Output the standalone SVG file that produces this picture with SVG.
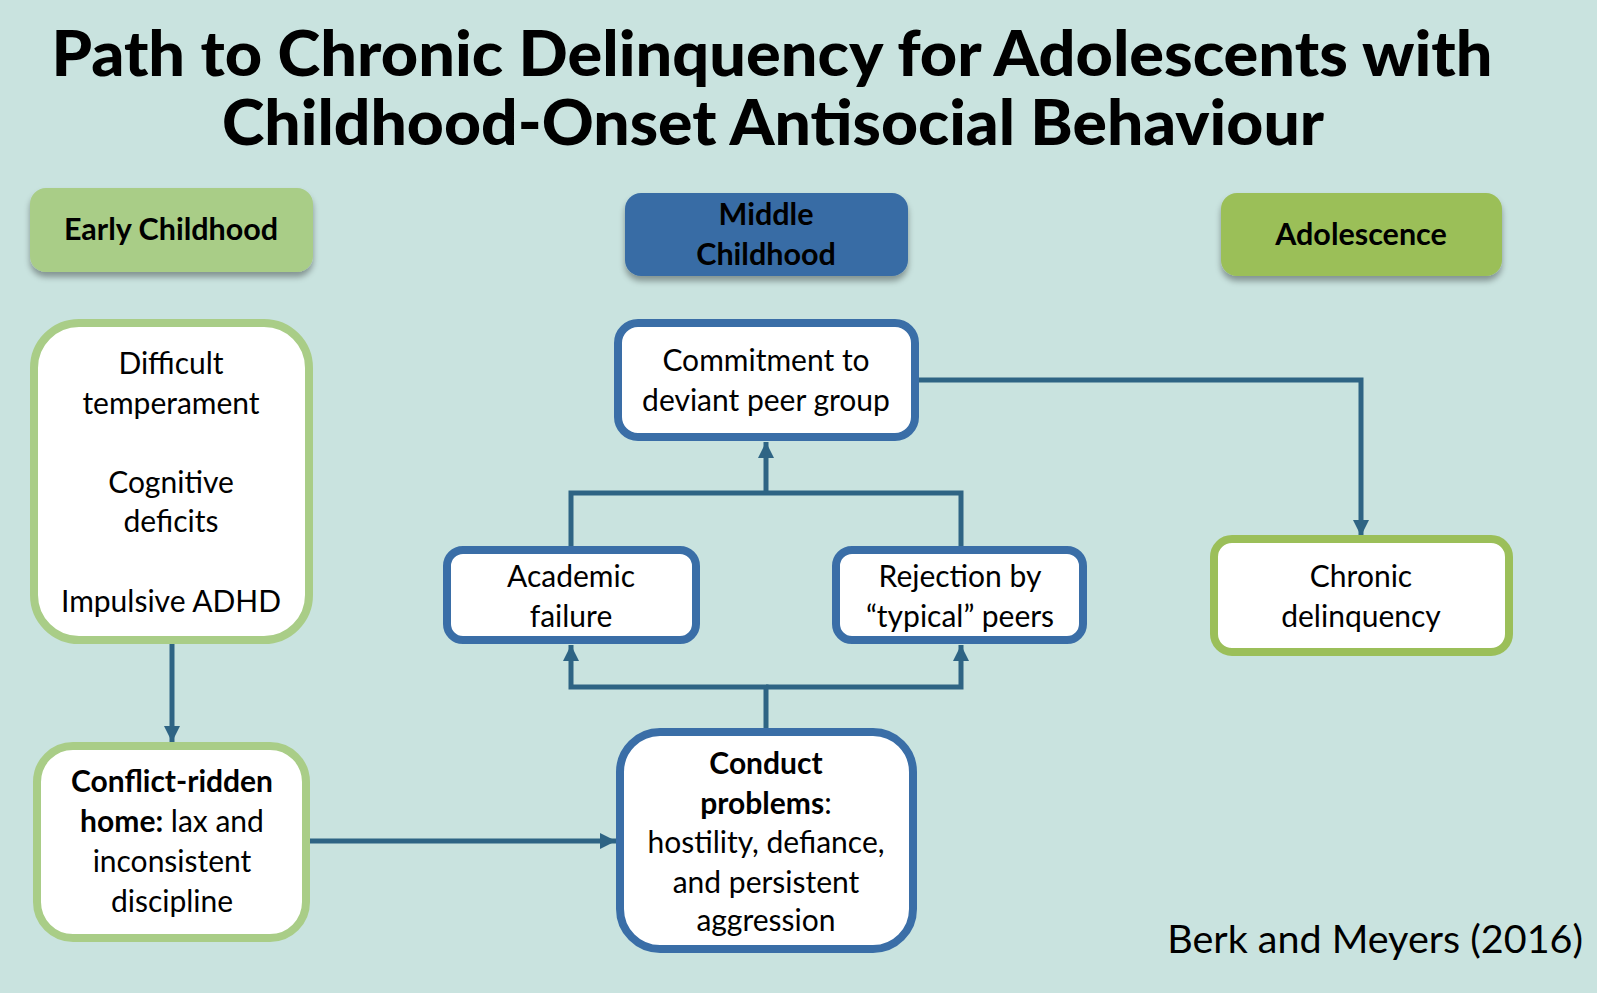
<svg xmlns="http://www.w3.org/2000/svg" width="1597" height="993" viewBox="0 0 1597 993">
<style>
.t{font-family:Lato,"Open Sans",sans-serif;font-size:30px;fill:#000;text-anchor:middle}
.b{font-weight:700}
.hd{font-family:Lato,"Open Sans",sans-serif;font-size:30.5px;font-weight:700;fill:#000;text-anchor:middle}
.title{font-family:Lato,"Open Sans",sans-serif;font-size:63px;font-weight:900;fill:#000;text-anchor:middle}
.blue{fill:#fff;stroke:#3a6ea7;stroke-width:8}
.green{fill:#fff;stroke:#a9cd87;stroke-width:8}
.green2{fill:#fff;stroke:#9bbf59;stroke-width:8}
.con{fill:none;stroke:#2e6484;stroke-width:5}
</style>
<defs>
<marker id="ah" markerUnits="userSpaceOnUse" markerWidth="16" markerHeight="16" refX="16" refY="8" orient="auto" viewBox="0 0 16 16">
<path d="M0,0 L16,8 L0,16 z" fill="#2e6484"/>
</marker>
<filter id="sh" x="-10%" y="-20%" width="120%" height="150%">
<feGaussianBlur in="SourceAlpha" stdDeviation="3"/>
<feOffset dx="0" dy="5" result="o"/>
<feComponentTransfer><feFuncA type="linear" slope="0.35"/></feComponentTransfer>
<feMerge><feMergeNode/><feMergeNode in="SourceGraphic"/></feMerge>
</filter>
</defs>
<rect width="1597" height="993" fill="#c9e3df"/>
<g id="title">
<text class="title" x="772" y="76" textLength="1441" lengthAdjust="spacingAndGlyphs">Path to Chronic Delinquency for Adolescents with</text>
<text class="title" x="773" y="145" textLength="1102" lengthAdjust="spacingAndGlyphs">Childhood-Onset Antisocial Behaviour</text>
</g>
<g id="early-childhood">
<rect x="30" y="188" width="283" height="84" rx="16" fill="#a9cd87" filter="url(#sh)"/>
<text class="hd" x="171" y="240">Early Childhood</text>
</g>
<g id="middle-childhood">
<rect x="625" y="193" width="283" height="83" rx="16" fill="#386ca5" filter="url(#sh)"/>
<text class="hd" x="766" y="225">Middle</text>
<text class="hd" x="766" y="265">Childhood</text>
</g>
<g id="adolescence">
<rect x="1221" y="193" width="281" height="83" rx="16" fill="#9bbf59" filter="url(#sh)"/>
<text class="hd" x="1361" y="245">Adolescence</text>
</g>
<g id="connectors">
<path class="con" d="M172 644 V742" marker-end="url(#ah)"/>
<path class="con" d="M310 841 H616" marker-end="url(#ah)"/>
<path class="con" d="M766 728 V687 H571 V645" marker-end="url(#ah)"/>
<path class="con" d="M766 687 H961 V645" marker-end="url(#ah)"/>
<path class="con" d="M571 546 V493 H961 V546"/>
<path class="con" d="M766 493 V442" marker-end="url(#ah)"/>
<path class="con" d="M918 380 H1361 V536" marker-end="url(#ah)"/>
</g>
<g id="risk-factors">
<rect class="green" x="34" y="323" width="275" height="317" rx="45"/>
<text class="t" x="171" y="374">Difficult</text>
<text class="t" x="171" y="414">temperament</text>
<text class="t" x="171" y="493">Cognitive</text>
<text class="t" x="171" y="532">deficits</text>
<text class="t" x="171" y="612">Impulsive ADHD</text>
</g>
<g id="conflict-home">
<rect class="green" x="37" y="746" width="269" height="192" rx="36"/>
<text class="t b" x="172" y="792">Conflict-ridden</text>
<text class="t" x="172" y="832"><tspan class="b">home:</tspan> lax and</text>
<text class="t" x="172" y="872">inconsistent</text>
<text class="t" x="172" y="912">discipline</text>
</g>
<g id="commitment">
<rect class="blue" x="618" y="323" width="297" height="114" rx="20"/>
<text class="t" x="766" y="371">Commitment to</text>
<text class="t" x="766" y="411">deviant peer group</text>
</g>
<g id="academic-failure">
<rect class="blue" x="447" y="550" width="249" height="90" rx="16"/>
<text class="t" x="571" y="587">Academic</text>
<text class="t" x="571" y="627">failure</text>
</g>
<g id="rejection">
<rect class="blue" x="836" y="550" width="247" height="90" rx="16"/>
<text class="t" x="960" y="587">Rejection by</text>
<text class="t" x="960" y="627">“typical” peers</text>
</g>
<g id="conduct-problems">
<rect class="blue" x="620" y="732" width="293" height="217" rx="40"/>
<text class="t b" x="766" y="774">Conduct</text>
<text class="t" x="766" y="814"><tspan class="b">problems</tspan>:</text>
<text class="t" x="766" y="853">hostility, defiance,</text>
<text class="t" x="766" y="893">and persistent</text>
<text class="t" x="766" y="931">aggression</text>
</g>
<g id="chronic-delinquency">
<rect class="green2" x="1214" y="539" width="295" height="113" rx="18"/>
<text class="t" x="1361" y="587">Chronic</text>
<text class="t" x="1361" y="627">delinquency</text>
</g>
<g id="citation">
<text x="1583" y="953" style="font-family:Lato,'Open Sans',sans-serif;font-size:39.5px;fill:#000;text-anchor:end">Berk and Meyers (2016)</text>
</g>
</svg>
